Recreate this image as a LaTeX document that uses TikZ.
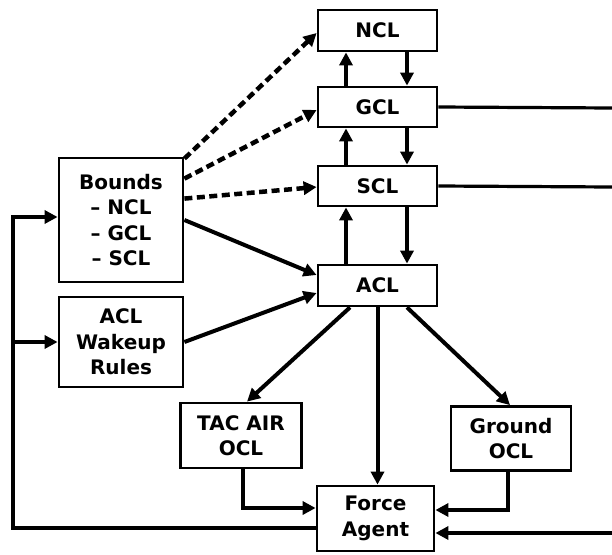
\documentclass[tikz,border=0pt]{standalone}
\usepackage{fontspec}
\setmainfont{DejaVu Sans}
\usepackage{tikz}
\usetikzlibrary{arrows.meta}

\begin{document}
\begin{tikzpicture}[x=1pt,y=-1pt,>={Triangle[length=13pt,width=13pt]},
  box/.style={draw,line width=2.8pt,inner sep=0pt,align=center,font=\bfseries\fontsize{20}{25.5}\selectfont},
  link/.style={->,line width=4pt},
  bndlink/.style={->,line width=4.5pt,dash pattern=on 8pt off 4.5pt}]
  \useasboundingbox (0,0) rectangle (612,554);
  \node[box,minimum width=119pt,minimum height=41pt] (ncl) at (377.5,30.5) {NCL};
  \node[box,minimum width=119pt,minimum height=40pt] (gcl) at (377.5,107) {GCL};
  \node[box,minimum width=119pt,minimum height=40pt] (scl) at (377.5,186) {SCL};
  \node[box,minimum width=119pt,minimum height=41pt] (acl) at (377.5,285.5) {ACL};
  \node[box,minimum width=124pt,minimum height=124pt] (bounds) at (121,220) {Bounds\\– NCL\\– GCL\\– SCL};
  \node[box,minimum width=124pt,minimum height=90pt] (wakeup) at (121,342) {ACL\\Wakeup\\Rules};
  \node[box,minimum width=121pt,minimum height=65pt] (tacair) at (241,435.5) {TAC AIR\\OCL};
  \node[box,minimum width=120pt,minimum height=64pt] (ground) at (511,438.5) {Ground\\OCL};
  \node[box,minimum width=117pt,minimum height=65pt] (force) at (375.5,518.5) {Force\\Agent};
  \coordinate (gclout) at (612,108);
  \coordinate (sclout) at (612,187);
  \coordinate (fain) at (612,533);
  \coordinate (fbl) at (13,528);
  % control levels, up and down
  \draw[link] ([xshift=-31.5pt]gcl.north) -- ([xshift=-31.5pt]ncl.south);
  \draw[link] ([xshift=29.5pt]ncl.south) -- ([xshift=29.5pt]gcl.north);
  \draw[link] ([xshift=-31.5pt]scl.north) -- ([xshift=-31.5pt]gcl.south);
  \draw[link] ([xshift=29.5pt]gcl.south) -- ([xshift=29.5pt]scl.north);
  \draw[link] ([xshift=-31.5pt]acl.north) -- ([xshift=-31.5pt]scl.south);
  \draw[link] ([xshift=29.5pt]scl.south) -- ([xshift=29.5pt]acl.north);
  \draw[line width=3.2pt] (gcl.east) -- (gclout);
  \draw[line width=3.2pt] (scl.east) -- (sclout);
  % bounds
  \draw[bndlink] ([yshift=-2pt]bounds.north east) -- ([yshift=-2.5pt]ncl.west);
  \draw[bndlink] ([yshift=-22pt]bounds.north east) -- ([yshift=-3pt]gcl.west);
  \draw[bndlink] ([yshift=-42pt]bounds.north east) -- ([yshift=-1pt]scl.west);
  \draw[link] (bounds.east) -- ([yshift=10.5pt]acl.west);
  \draw[link] (wakeup.east) -- ([yshift=-7.5pt]acl.west);
  % orders
  \draw[link] ([xshift=-27.5pt]acl.south) -- ([xshift=6pt]tacair.north);
  \draw[link] (acl.south) -- (acl.south |- force.north);
  \draw[link] ([xshift=29.5pt]acl.south) -- ([xshift=-1pt]ground.north);
  \draw[link] ([xshift=2pt]tacair.south) |- ([yshift=10.5pt]force.west);
  \draw[link] ([xshift=-3pt]ground.south) |- ([yshift=8.5pt]force.east);
  \draw[link] (fain) -- (force.east |- fain);
  % feedback
  \draw[link] (force.west |- fbl) -- (fbl) |- ([yshift=3pt]bounds.west);
  \draw[link] (fbl |- wakeup.west) -- (wakeup.west);
\end{tikzpicture}
\end{document}
